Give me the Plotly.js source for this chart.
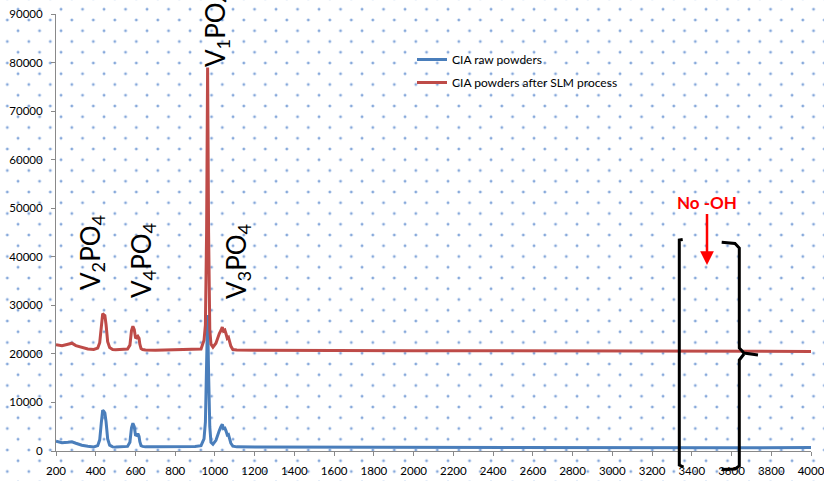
<!DOCTYPE html>
<html>
<head>
<meta charset="utf-8">
<script src="https://cdn.plot.ly/plotly-3.0.1.min.js"></script>
<style>
html,body{margin:0;padding:0;width:824px;height:481px;overflow:hidden;background-color:#ffffff;
background-image:
 radial-gradient(circle, rgba(60,110,190,0.95) 0px, rgba(90,140,210,0.5) 1.1px, rgba(255,255,255,0) 1.9px),
 radial-gradient(circle, rgba(60,110,190,0.95) 0px, rgba(90,140,210,0.5) 1.1px, rgba(255,255,255,0) 1.9px);
background-size:21.5px 21.5px, 21.5px 21.5px;
background-position:-3.45px 9.25px, 7.3px 20px;}
#chart{width:824px;height:481px;}
</style>
</head>
<body>
<div id="chart"></div>
<script>
// Raman shift (cm-1)
const wavenumber = [200, 230, 260, 280, 300, 330, 360, 390, 410, 420, 428, 435, 440, 446, 452, 460, 470, 485, 500, 530, 560, 572, 580, 587, 594, 600, 606, 612, 618, 622, 628, 636, 650, 700, 800, 900, 930, 945, 952, 958, 963, 968, 974, 980, 990, 1005, 1015, 1022, 1030, 1037, 1043, 1050, 1056, 1062, 1068, 1074, 1080, 1090, 1110, 1200, 1400, 1600, 2000, 2400, 2800, 3200, 3600, 4000];
// CIA raw powders
const rawPowders = [2000, 1700, 1800, 1900, 1600, 1200, 1000, 850, 1100, 2300, 5800, 8400, 8200, 7800, 6000, 2500, 1200, 850, 800, 850, 950, 1800, 4800, 5700, 5000, 3300, 3200, 3600, 3000, 1900, 1100, 950, 850, 850, 880, 950, 1100, 2500, 6000, 16000, 28000, 16000, 5000, 1800, 1400, 2200, 3600, 4200, 5000, 5500, 4600, 4700, 4100, 3300, 3400, 2600, 1600, 1000, 850, 800, 780, 760, 750, 720, 700, 700, 680, 700];
// CIA powders after SLM process
const slmPowders = [21900, 21700, 22000, 22200, 21700, 21300, 21000, 20900, 21200, 22300, 25500, 28300, 28100, 27900, 26000, 22500, 21300, 20900, 20850, 20900, 21000, 21800, 24800, 25700, 25000, 23400, 23300, 23600, 23200, 22000, 21100, 20900, 20800, 20750, 20800, 20900, 21000, 22800, 26000, 45000, 79000, 45000, 25000, 22000, 21400, 22200, 23500, 24200, 24800, 25500, 24700, 24900, 24100, 23200, 23400, 22700, 21600, 20900, 20800, 20750, 20700, 20700, 20650, 20650, 20600, 20600, 20550, 20500];

const xTicks = [200, 400, 600, 800, 1000, 1200, 1400, 1600, 1800, 2000, 2200, 2400, 2600, 2800, 3000, 3200, 3400, 3600, 3800, 4000];
const yTicks = [0, 10000, 20000, 30000, 40000, 50000, 60000, 70000, 80000, 90000];
const seriesNames = ['CIA raw powders', 'CIA powders after SLM process'];
const peakLabels = ['V<sub>2</sub>PO<sub>4</sub>', 'V<sub>4</sub>PO<sub>4</sub>', 'V<sub>1</sub>PO<sub>4</sub>', 'V<sub>3</sub>PO<sub>4</sub>'];
const noteLabel = 'No -OH';

// pixel -> paper helpers for the hand-drawn decorations
const L = 56, R = 13, T = 14, B = 30, W = 824, H = 481;
const PW = W - L - R, PH = H - T - B;
function px(x){ return (x - L) / PW; }
function py(y){ return (H - B - y) / PH; }
function path(pts){
  return pts.map((p, i) => (i === 0 ? 'M' : 'L') + px(p[0]) + ',' + py(p[1])).join(' ');
}

const traces = [
  {x: wavenumber, y: rawPowders, type: 'scatter', mode: 'lines', name: seriesNames[0],
   legendgroup: 'a', line: {color: '#4a7ebb', width: 3}},
  {x: wavenumber, y: slmPowders, type: 'scatter', mode: 'lines', name: seriesNames[1],
   legendgroup: 'b', line: {color: '#be4b48', width: 3}}
];

const labelFont = {family: 'Lato, "Open Sans", sans-serif', size: 26, color: '#000'};
function peakAnn(text, x, y){
  return {text: text, xref: 'paper', yref: 'paper', x: px(x), y: py(y), xanchor: 'center', yanchor: 'middle',
          textangle: -90, showarrow: false, font: labelFont};
}

const layout = {
  width: W, height: H,
  margin: {l: L, r: R, t: T, b: B, pad: 0},
  paper_bgcolor: 'rgba(0,0,0,0)', plot_bgcolor: 'rgba(0,0,0,0)',
  font: {family: 'Lato, "Open Sans", sans-serif', color: '#000'},
  showlegend: true,
  legend: {x: px(412), y: py(45), xanchor: 'left', yanchor: 'top', bgcolor: 'rgba(0,0,0,0)',
           font: {size: 12, family: 'Lato, sans-serif'}, traceorder: 'grouped', tracegroupgap: 4, itemwidth: 30},
  xaxis: {range: [200, 4000], tickmode: 'array', tickvals: xTicks, ticktext: xTicks.map(String),
          showgrid: false, zeroline: false,
          showline: true, linecolor: '#898989', linewidth: 1, ticks: 'outside', ticklen: 4, tickcolor: '#898989',
          tickfont: {size: 11.5}, ticklabelstandoff: 5, ticklabeloverflow: 'allow', fixedrange: true},
  yaxis: {range: [0, 90000], tickmode: 'array', tickvals: yTicks, ticktext: yTicks.map(String),
          showgrid: false, zeroline: false,
          showline: true, linecolor: '#898989', linewidth: 1, ticks: 'outside', ticklen: 4, tickcolor: '#898989',
          tickfont: {size: 11.5}, ticklabelstandoff: 6, fixedrange: true},
  annotations: [
    peakAnn(peakLabels[0], 91, 252),
    peakAnn(peakLabels[1], 142, 260),
    peakAnn(peakLabels[2], 216, 29),
    peakAnn(peakLabels[3], 237, 261),
    {text: '<b>' + noteLabel + '</b>', xref: 'paper', yref: 'paper', x: px(707), y: py(265),
     showarrow: true, ax: 0, ay: -63, arrowhead: 2, arrowsize: 1.1, arrowwidth: 2.5, arrowcolor: '#ff0000',
     standoff: 0, startstandoff: 0, font: {size: 17, color: '#ff0000', family: 'Lato, sans-serif'}}
  ],
  shapes: [
    {type: 'path', xref: 'paper', yref: 'paper', layer: 'above',
     path: path([[682.7,239.5],[679.3,240],[679.3,465],[683.5,467]]),
     line: {color: '#000', width: 3}},
    {type: 'path', xref: 'paper', yref: 'paper', layer: 'above',
     path: path([[721.7,242.3],[735,243.5],[739.3,248],[739.3,348],[744,353],[758,355]]),
     line: {color: '#000', width: 3}},
    {type: 'path', xref: 'paper', yref: 'paper', layer: 'above',
     path: path([[744,354],[739.3,360],[739.3,466],[735,469],[721.7,469.5]]),
     line: {color: '#000', width: 3}}
  ]
};

Plotly.newPlot('chart', traces, layout, {displayModeBar: false, staticPlot: true});
</script>
</body>
</html>
